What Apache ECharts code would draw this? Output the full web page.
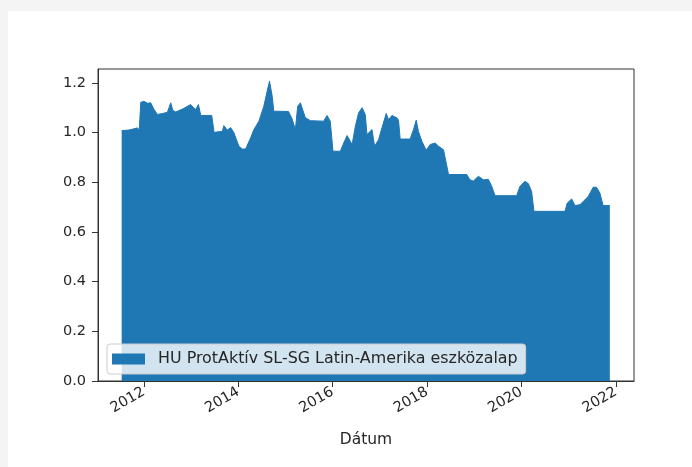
<!DOCTYPE html>
<html>
<head>
<meta charset="utf-8">
<script src="https://cdn.jsdelivr.net/npm/echarts@6/dist/echarts.min.js"></script>
<style>
html, body { margin: 0; padding: 0; background: #f4f4f4; }
#main { position: absolute; left: 8px; top: 11px; width: 684px; height: 456px; background: #fff; }
</style>
</head>
<body>
<div id="main"></div>
<script>
var seriesName = 'HU ProtAktív SL-SG Latin-Amerika eszközalap';

var dates = [
	'2011-07-14', '2011-09-07', '2011-10-16', '2011-11-13', '2011-11-27', '2011-12-09',
	'2012-01-01', '2012-02-01', '2012-02-24', '2012-03-18', '2012-04-16', '2012-06-04',
	'2012-07-02', '2012-07-28', '2012-08-12', '2012-09-05', '2012-10-28', '2012-12-29',
	'2013-01-21', '2013-02-06', '2013-02-27', '2013-03-17', '2013-06-10', '2013-06-28',
	'2013-08-31', '2013-09-12', '2013-10-08', '2013-11-03', '2013-11-28', '2014-01-06',
	'2014-02-01', '2014-02-27', '2014-04-07', '2014-04-30', '2014-06-10', '2014-07-18',
	'2014-08-13', '2014-08-31', '2014-09-21', '2014-10-03', '2015-01-25', '2015-02-22',
	'2015-03-19', '2015-04-06', '2015-04-27', '2015-06-04', '2015-07-13', '2015-10-24',
	'2015-11-19', '2015-12-14', '2016-01-04', '2016-03-01', '2016-03-27', '2016-04-22',
	'2016-05-31', '2016-06-25', '2016-07-20', '2016-08-16', '2016-09-10', '2016-09-23',
	'2016-11-01', '2016-11-21', '2016-12-22', '2017-01-17', '2017-02-19', '2017-03-09',
	'2017-04-04', '2017-05-13', '2017-05-25', '2017-06-07', '2017-08-23', '2017-09-18',
	'2017-10-09', '2017-10-26', '2017-11-22', '2017-12-25', '2018-01-25', '2018-03-05',
	'2018-03-31', '2018-05-08', '2018-05-29', '2018-06-16', '2018-11-04', '2018-11-29',
	'2018-12-25', '2019-02-02', '2019-03-13', '2019-04-20', '2019-05-16', '2019-06-11',
	'2019-11-25', '2019-12-20', '2020-01-28', '2020-02-23', '2020-03-20', '2020-04-07',
	'2020-12-03', '2020-12-20', '2021-01-24', '2021-02-18', '2021-03-29', '2021-04-23',
	'2021-06-01', '2021-07-09', '2021-08-04', '2021-08-30', '2021-09-24', '2021-11-15'
];

var values = [
	1.008, 1.010, 1.015, 1.019, 1.010, 1.122,
	1.126, 1.118, 1.120, 1.095, 1.073, 1.078,
	1.082, 1.120, 1.090, 1.083, 1.095, 1.113,
	1.100, 1.093, 1.113, 1.069, 1.069, 1.001,
	1.005, 1.028, 1.010, 1.020, 1.000, 0.945,
	0.934, 0.934, 0.979, 1.010, 1.046, 1.106,
	1.167, 1.207, 1.146, 1.086, 1.085, 1.055,
	1.012, 1.106, 1.120, 1.060, 1.048, 1.046,
	1.069, 1.046, 0.925, 0.925, 0.958, 0.988,
	0.952, 1.025, 1.079, 1.100, 1.073, 0.992,
	1.012, 0.945, 0.972, 1.019, 1.077, 1.052,
	1.069, 1.059, 1.050, 0.974, 0.974, 1.012,
	1.050, 1.005, 0.965, 0.929, 0.952, 0.958,
	0.945, 0.931, 0.878, 0.831, 0.831, 0.810,
	0.805, 0.824, 0.810, 0.812, 0.784, 0.746,
	0.746, 0.783, 0.804, 0.795, 0.763, 0.683,
	0.683, 0.716, 0.733, 0.706, 0.710, 0.723,
	0.743, 0.780, 0.780, 0.757, 0.706, 0.706
];

var xTickYears = [2012, 2014, 2016, 2018, 2020, 2022];
var yTicks = [0, 0.2, 0.4, 0.6, 0.8, 1.0, 1.2];

var font = 'DejaVu Sans';
var textColor = '#262626';

// dates go on a plain value axis as timestamps, so the tick years can be placed exactly
var points = dates.map(function (d, i) {
	return [Date.parse(d), values[i]];
});
var xTickValues = xTickYears.map(function (y) {
	return Date.UTC(y, 0, 1);
});

var chart = echarts.init(document.getElementById('main'));
var option = {
	animation: false,
	grid: {
		left: 90,
		right: 58,
		top: 58,
		bottom: 86,
		show: true,
		borderColor: '#333',
		borderWidth: 1
	},
	legend: {
		data: [seriesName],
		left: 99,
		top: 333,
		icon: 'rect',
		itemWidth: 33,
		itemHeight: 11,
		padding: [7, 8, 7, 5],
		backgroundColor: 'rgba(255,255,255,0.8)',
		borderColor: '#cccccc',
		borderWidth: 1,
		borderRadius: 3,
		textStyle: {
			fontFamily: font,
			fontSize: 15.9,
			color: textColor,
			padding: [0, 0, 0, 8]
		}
	},
	xAxis: {
		type: 'value',
		min: Date.UTC(2011, 0, 12),
		max: Date.UTC(2022, 4, 21),
		name: 'Dátum',
		nameLocation: 'middle',
		nameGap: 51,
		nameTextStyle: {
			fontFamily: font,
			fontSize: 15.5,
			color: textColor
		},
		z: 10,
		splitLine: { show: false },
		axisLine: { show: true, onZero: false, lineStyle: { color: '#333', width: 1 } },
		axisTick: {
			show: true,
			length: 6,
			customValues: xTickValues,
			lineStyle: { color: '#333' }
		},
		axisLabel: {
			customValues: xTickValues,
			rotate: 30,
			margin: 10,
			fontFamily: font,
			fontSize: 14.5,
			color: textColor,
			formatter: function (v) {
				return String(new Date(v).getUTCFullYear());
			}
		}
	},
	yAxis: {
		type: 'value',
		min: 0,
		max: 1.256,
		z: 10,
		splitLine: { show: false },
		axisLine: { show: true, lineStyle: { color: '#333', width: 1 } },
		axisTick: {
			show: true,
			length: 6,
			customValues: yTicks,
			lineStyle: { color: '#333' }
		},
		axisLabel: {
			customValues: yTicks,
			margin: 12,
			fontFamily: font,
			fontSize: 14.5,
			color: textColor,
			formatter: function (v) {
				return v.toFixed(1);
			}
		}
	},
	series: [{
		name: seriesName,
		type: 'line',
		data: points,
		showSymbol: false,
		color: '#1f77b4',
		lineStyle: { color: '#1f77b4', width: 1 },
		areaStyle: { color: '#1f77b4', opacity: 1 }
	}]
};
chart.setOption(option);
</script>
</body>
</html>
